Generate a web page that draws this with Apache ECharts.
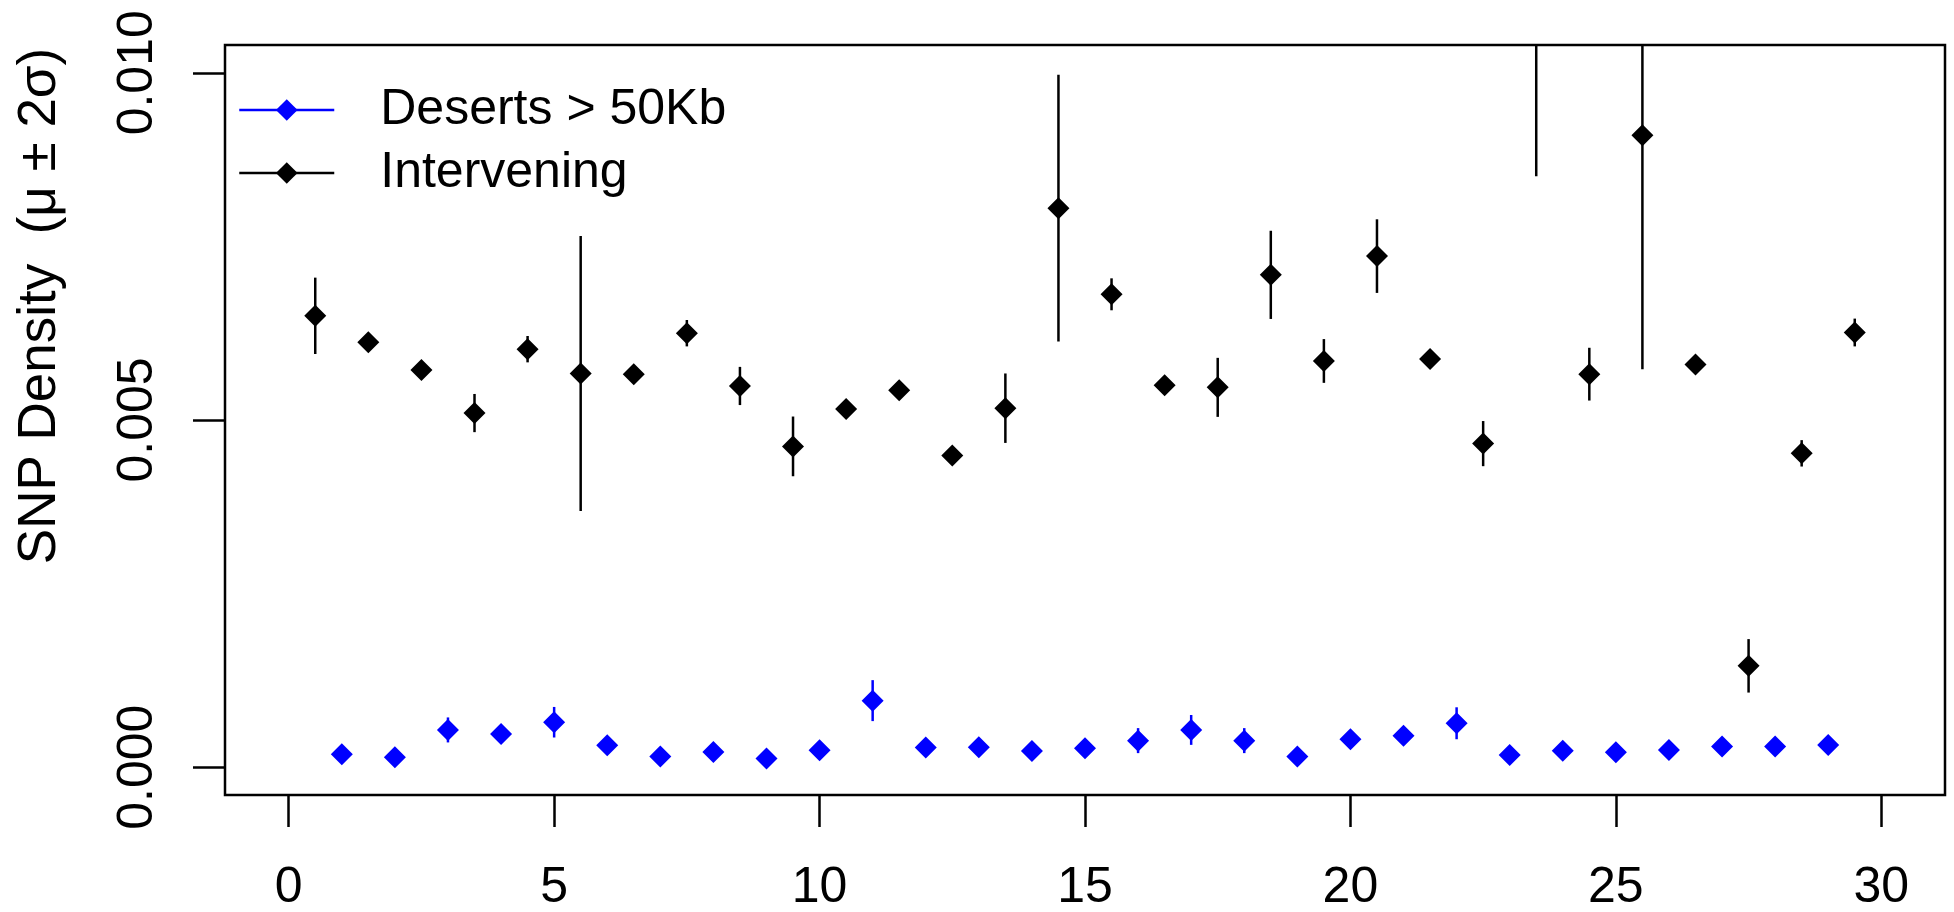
<!DOCTYPE html>
<html>
<head>
<meta charset="utf-8">
<script src="https://cdn.jsdelivr.net/npm/echarts@6/dist/echarts.min.js"></script>
<style>
  html, body { margin: 0; padding: 0; background: #fff; }
  #chart { width: 1954px; height: 912px; }
</style>
</head>
<body>
<div id="chart"></div>
<script>
// ticks
var xTicks = [0, 5, 10, 15, 20, 25, 30];
var yTicks = [0, 0.005, 0.010];

// Deserts > 50Kb : mean and half width of the bar (2 sigma)
var desertX = [1, 2, 3, 4, 5, 6, 7, 8, 9, 10, 11, 12, 13, 14, 15,
  16, 17, 18, 19, 20, 21, 22, 23, 24, 25, 26, 27, 28, 29];
var desertMean = [0.000187, 0.000144, 0.000537, 0.000479, 0.000648, 0.000317, 0.000153, 0.000220, 0.000124, 0.000245,
  0.000959, 0.000283, 0.000288, 0.000235, 0.000273, 0.000383, 0.000537, 0.000383, 0.000153, 0.000403,
  0.000455, 0.000633, 0.000177, 0.000239, 0.000216, 0.000249, 0.000297, 0.000297, 0.000321];
var desertErr = [0.00005, 0.00005, 0.00018, 0.00010, 0.00022, 0.00008, 0.00005, 0.00006, 0.00005, 0.00008,
  0.000295, 0.00006, 0.00008, 0.00006, 0.00008, 0.00018, 0.000215, 0.00018, 0.00005, 0.00010,
  0.00012, 0.00023, 0.00005, 0.00006, 0.00006, 0.00008, 0.00010, 0.00008, 0.00010];

// Intervening
var intervX = [0.5, 1.5, 2.5, 3.5, 4.5, 5.5, 6.5, 7.5, 8.5, 9.5, 10.5, 11.5, 12.5, 13.5, 14.5,
  15.5, 16.5, 17.5, 18.5, 19.5, 20.5, 21.5, 22.5, 23.5, 24.5, 25.5, 26.5, 27.5, 28.5, 29.5];
var intervMean = [0.00650, 0.00612, 0.00572, 0.00510, 0.00602, 0.00567, 0.00566, 0.00625, 0.00549, 0.00462,
  0.00516, 0.00543, 0.00449, 0.00517, 0.00805, 0.00681, 0.00550, 0.00547, 0.00709, 0.00585,
  0.00736, 0.00588, 0.00466, 0.01120, 0.00566, 0.00910, 0.00580, 0.00146, 0.00452, 0.00626];
var intervErr = [0.00055, 0.00010, 0.00008, 0.000275, 0.00019, 0.00198, 0.00008, 0.00019, 0.000275, 0.00043,
  0.00010, 0.00010, 0.00010, 0.00050, 0.00192, 0.00023, 0.00010, 0.000425, 0.000635, 0.000315,
  0.00053, 0.00010, 0.000325, 0.00269, 0.00038, 0.00337, 0.00010, 0.000385, 0.00019, 0.00020];

var font = 'Liberation Sans, Arial, Helvetica, sans-serif';

function points(xs, ys) {
  return xs.map(function (x, i) { return [x, ys[i]]; });
}
function bars(xs, ys, es) {
  return xs.map(function (x, i) { return [x, ys[i] - es[i], ys[i] + es[i]]; });
}
function errorBar(color) {
  return function (params, api) {
    var lo = api.coord([api.value(0), api.value(1)]);
    var hi = api.coord([api.value(0), api.value(2)]);
    return {
      type: 'line',
      shape: { x1: lo[0], y1: lo[1], x2: hi[0], y2: hi[1] },
      style: { stroke: color, lineWidth: 2.5, lineCap: 'butt' }
    };
  };
}

var chart = echarts.init(document.getElementById('chart'));

var option = {
  animation: false,
  backgroundColor: '#fff',
  grid: {
    left: 225, right: 9, top: 45, bottom: 117,
    show: true, borderColor: '#000', borderWidth: 2.5,
    outerBoundsMode: 'none'
  },
  legend: {
    data: ['Deserts > 50Kb', 'Intervening'],
    orient: 'vertical',
    left: 238, top: 85, padding: 0,
    itemWidth: 95, itemHeight: 27, itemGap: 13,
    selectedMode: false,
    lineStyle: { width: 2.5, opacity: 1 },
    textStyle: { fontSize: 50, fontFamily: font, color: '#000', lineHeight: 50, padding: [0, 0, 0, 41] }
  },
  xAxis: {
    type: 'value', min: -1.2, max: 31.2,
    splitLine: { show: false },
    axisLine: { show: false, onZero: false },
    axisTick: { show: true, customValues: xTicks, length: 32, lineStyle: { color: '#000', width: 2.5 } },
    axisLabel: { customValues: xTicks, margin: 68, fontSize: 50, fontFamily: font, color: '#000' }
  },
  yAxis: {
    type: 'value', min: -0.0004, max: 0.0104,
    splitLine: { show: false },
    axisLine: { show: false, onZero: false },
    axisTick: { show: true, customValues: yTicks, length: 32, lineStyle: { color: '#000', width: 2.5 } },
    axisLabel: {
      customValues: yTicks, rotate: 90, margin: 62, fontSize: 50, fontFamily: font, color: '#000',
      formatter: function (v) { return v.toFixed(3); }
    }
  },
  graphic: [{
    type: 'text', x: 40, y: 306, rotation: Math.PI / 2,
    style: {
      text: 'SNP Density  (\u03bc \u00b1 2\u03c3)', fontSize: 53, fontFamily: font,
      fill: '#000', align: 'center', verticalAlign: 'middle'
    }
  }],
  series: [
    {
      name: 'desertBars', type: 'custom', clip: true, silent: true,
      renderItem: errorBar('#0000ff'),
      encode: { x: 0, y: [1, 2] },
      data: bars(desertX, desertMean, desertErr)
    },
    {
      name: 'intervBars', type: 'custom', clip: true, silent: true,
      renderItem: errorBar('#000000'),
      encode: { x: 0, y: [1, 2] },
      data: bars(intervX, intervMean, intervErr)
    },
    {
      name: 'Deserts > 50Kb', type: 'line', symbol: 'diamond', symbolSize: 22,
      showAllSymbol: true, clip: true,
      itemStyle: { color: '#0000ff' },
      lineStyle: { color: '#0000ff', opacity: 0 },
      emphasis: { disabled: true },
      data: points(desertX, desertMean)
    },
    {
      name: 'Intervening', type: 'line', symbol: 'diamond', symbolSize: 22,
      showAllSymbol: true, clip: true,
      itemStyle: { color: '#000000' },
      lineStyle: { color: '#000000', opacity: 0 },
      emphasis: { disabled: true },
      data: points(intervX, intervMean)
    }
  ]
};

chart.setOption(option);
</script>
</body>
</html>
